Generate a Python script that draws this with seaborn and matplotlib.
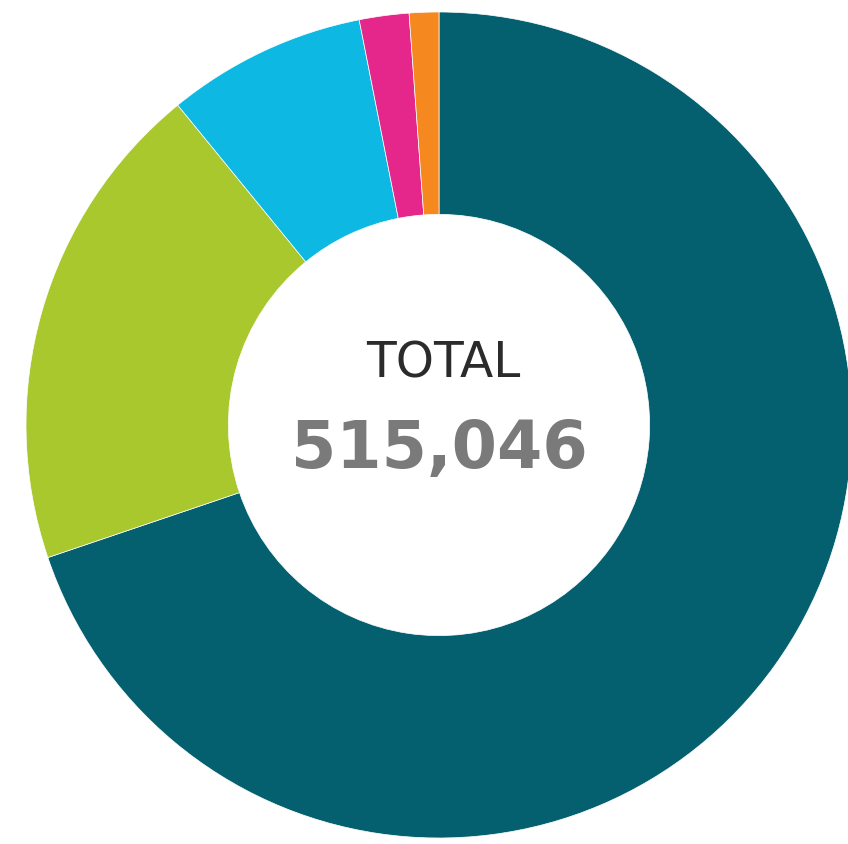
import matplotlib
matplotlib.use("Agg")
import matplotlib.pyplot as plt
import seaborn as sns

# Segment values (clockwise from 12 o'clock) and their colours
segments = ["A", "B", "C", "D", "E"]
values = [359500, 99400, 40200, 10000, 5946]
colors = ["#04606F", "#A8C82E", "#0DB9E3", "#E5278B", "#F5881F"]
total_label = "TOTAL"
total_value = sum(values)

sns.set_theme(style="white")
plt.rcParams["font.family"] = ["DejaVu Sans"]

W, H, DPI = 848, 844, 100
fig = plt.figure(figsize=(W / DPI, H / DPI), dpi=DPI)
ax = fig.add_axes([0, 0, 1, 1])

# Donut: outer radius 1, ring width ~0.49
ax.pie(values, colors=colors, startangle=90, counterclock=False, radius=1.0,
       wedgeprops=dict(width=0.49, edgecolor="white", linewidth=0.5))

# Place the ring centre and scale in pixel terms
cx, cy, r = 439, 425, 413
ax.set_xlim(-cx / r, (W - cx) / r)
ax.set_ylim(-(H - cy) / r, cy / r)
ax.set_aspect("equal")
ax.axis("off")

ax.text(0.01, 0.114, total_label, ha="center", va="baseline",
        fontsize=35, color="#2b2b2b")
ax.text(0.0, -0.104, f"{total_value:,}", ha="center", va="baseline",
        fontsize=47, fontweight="bold", color="#7a7a7a")

fig.savefig("out.png", dpi=DPI, facecolor="white")
